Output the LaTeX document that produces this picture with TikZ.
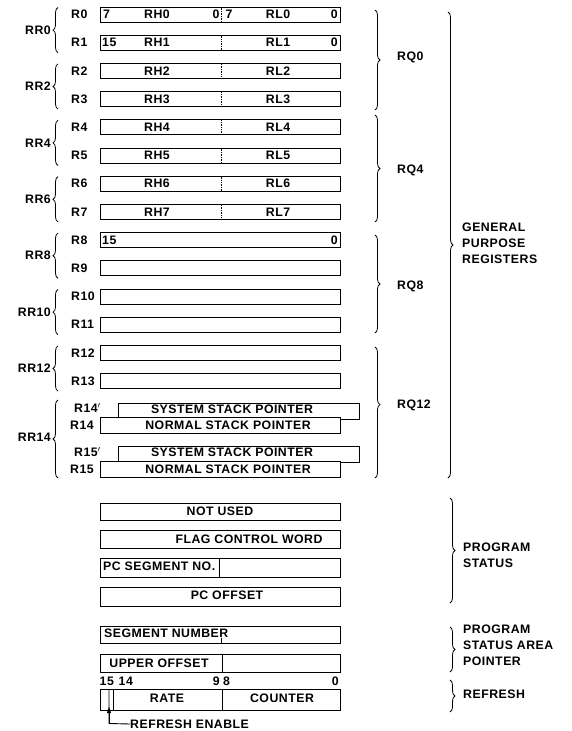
\documentclass[tikz,border=0pt]{standalone}
\usepackage{fontspec}
\setmainfont{Liberation Sans}[LetterSpace=4]
\usetikzlibrary{decorations.pathreplacing,arrows.meta}
\begin{document}
\begin{tikzpicture}[x=1pt,y=-1pt,
  font=\fontsize{12.3}{16}\selectfont\bfseries,
  reg/.style={draw, line width=0.9pt, fill=white, inner sep=0pt, minimum width=240pt, minimum height=15pt},
  sysbox/.style={draw, line width=0.9pt, fill=white, inner sep=0pt, minimum width=241pt, minimum height=16pt},
  txt/.style={inner sep=0pt},
  lbl/.style={inner sep=0pt, anchor=west},
  rlbl/.style={inner sep=0pt, anchor=east},
  bracel/.style={decorate, decoration={brace, amplitude=5pt}, line width=0.8pt},
  bracer/.style={decorate, decoration={brace, amplitude=5pt}, line width=0.8pt},
  divdot/.style={line width=0.7pt, densely dotted},
  div/.style={line width=0.9pt}]
\useasboundingbox (0,0) rectangle (572,731);

% ---- general registers R0..R13
\foreach \i in {0,...,13}{
  \pgfmathsetmacro\yy{14.5+28.2*\i}
  \node[reg] (r\i) at (220,\yy) {};
  \node[lbl] (l\i) at (71,\yy) {R\i};
}
\foreach \i in {0,...,7}{
  \pgfmathsetmacro\yy{14.5+28.2*\i}
  \node[txt] (rh\i) at (157,\yy) {RH\i};
  \node[txt] (rl\i) at (278,\yy) {RL\i};
  \coordinate (dt\i) at (221,\yy-7);
  \coordinate (db\i) at (221,\yy+7);
  \draw[divdot] (dt\i) -- (db\i);
}
% bit numbers
\node[lbl] (b0a) at (103,14.5) {7};
\node[txt] (b0b) at (216,14.5) {0};
\node[txt] (b0c) at (229,14.5) {7};
\node[rlbl] (b0d) at (338,14.5) {0};
\node[lbl] (b1a) at (102,42.7) {15};
\node[rlbl] (b1d) at (338,42.7) {0};
\node[lbl] (b8a) at (102,240.1) {15};
\node[rlbl] (b8d) at (338,240.1) {0};

% ---- R14 / R15 with shadow registers
\node[sysbox] (s14) at (238.5,411) {};
\node[reg, minimum height=16pt] (r14) at (220,425) {};
\node[txt] (s14t) at (232,409) {SYSTEM STACK POINTER};
\node[txt] (r14t) at (228,425) {NORMAL STACK POINTER};
\node[sysbox] (s15) at (239,454) {};
\node[reg, minimum height=16pt] (r15) at (220,469) {};
\node[txt] (s15t) at (232,452.5) {SYSTEM STACK POINTER};
\node[txt] (r15t) at (228,469) {NORMAL STACK POINTER};
\node[lbl] (l14p) at (74,408) {R14$'$};
\node[lbl] (l14) at (70,425) {R14};
\node[lbl] (l15p) at (74,452) {R15$'$};
\node[lbl] (l15) at (70,469) {R15};

% ---- left braces RR
\foreach \k in {0,2,...,12}{
  \pgfmathtruncatemacro\kk{\k+1}
  \pgfmathsetmacro\ya{14.5+28.2*\k-7}
  \pgfmathsetmacro\yb{14.5+28.2*\kk+10}
  \pgfmathsetmacro\ym{(\ya+\yb)/2}
  \coordinate (rrt\k) at (58,\ya);
  \coordinate (rrb\k) at (58,\yb);
  \draw[bracel] (rrb\k) -- (rrt\k);
  \node[rlbl] (rr\k) at (51,\ym) {RR\k};
}
\coordinate (rrt14) at (58,400);
\coordinate (rrb14) at (58,478);
\draw[bracel] (rrb14) -- (rrt14);
\node[rlbl] (rr14) at (51,437) {RR14};

% ---- right braces RQ
\coordinate (q0t) at (375,10);  \coordinate (q0b) at (375,110);
\coordinate (q4t) at (375,115); \coordinate (q4b) at (375,222);
\coordinate (q8t) at (375,235); \coordinate (q8b) at (375,333);
\coordinate (q12t) at (375,347); \coordinate (q12b) at (375,478);
\draw[bracer] (q0t) -- (q0b);
\draw[bracer] (q4t) -- (q4b);
\draw[bracer] (q8t) -- (q8b);
\draw[bracer, decoration={aspect=0.44}] (q12t) -- (q12b);
\node[lbl] (rq0) at (397,57) {RQ0};
\node[lbl] (rq4) at (397,170) {RQ4};
\node[lbl] (rq8) at (397,286) {RQ8};
\node[lbl] (rq12) at (397,405) {RQ12};

% ---- general purpose brace
\coordinate (gpt) at (448,12); \coordinate (gpb) at (448,478);
\draw[bracer] (gpt) -- (gpb);
\node[lbl, align=left] (gp) at (462,243) {GENERAL\\PURPOSE\\REGISTERS};

% ---- program status
\node[reg, minimum height=17pt] (nu) at (220,511.5) {};
\node[txt] (nut) at (220,511.5) {NOT USED};
\node[reg, minimum height=18pt] (fcw) at (220,539) {};
\node[txt] (fcwt) at (249,539) {FLAG CONTROL WORD};
\node[reg, minimum height=19pt] (pcs) at (220,567.5) {};
\node[lbl] (pcst) at (103,566.5) {PC SEGMENT NO.};
\coordinate (pcsd1) at (219,558); \coordinate (pcsd2) at (219,577);
\draw[div] (pcsd1) -- (pcsd2);
\node[reg, minimum height=19pt] (pco) at (220,596.5) {};
\node[txt] (pcot) at (227,595.5) {PC OFFSET};

\coordinate (pst) at (450,498); \coordinate (psb) at (450,603);
\draw[bracer] (pst) -- (psb);
\node[lbl, align=left] (ps) at (463,555) {PROGRAM\\STATUS};

% ---- program status area pointer
\node[reg, minimum height=17pt] (sn) at (220,634.5) {};
\node[lbl] (snt) at (104,633.5) {SEGMENT NUMBER};
\coordinate (snd1) at (221,638); \coordinate (snd2) at (221,643);
\draw[div] (snd1) -- (snd2);
\node[reg, minimum height=18pt] (uo) at (220,663) {};
\node[txt] (uot) at (159,663) {UPPER OFFSET};
\coordinate (uod1) at (222,654); \coordinate (uod2) at (222,672);
\draw[div] (uod1) -- (uod2);

\coordinate (pat) at (450,627); \coordinate (pab) at (450,672);
\draw[bracer] (pat) -- (pab);
\node[lbl, align=left] (psap) at (463,645) {PROGRAM\\STATUS AREA\\POINTER};

% ---- refresh
\node[lbl] (bt15) at (99.5,681) {15};
\node[lbl] (bt14) at (118.5,681) {14};
\node[rlbl] (bt9) at (220,681) {9};
\node[lbl] (bt8) at (223,681) {8};
\node[rlbl] (bt0) at (339,681) {0};
\node[reg, minimum height=21pt] (rf) at (220,699.5) {};
\coordinate (rfd1) at (113,689); \coordinate (rfd2) at (113,710);
\coordinate (rfd3) at (222,689); \coordinate (rfd4) at (222,710);
\draw[div] (rfd1) -- (rfd2);
\draw[div] (rfd3) -- (rfd4);
\node[txt] (rate) at (167,698.5) {RATE};
\node[txt] (cnt) at (282,698.5) {COUNTER};
\node[lbl] (ren) at (130,724) {REFRESH ENABLE};
\coordinate (reA) at (109,690);
\coordinate (reB) at (109,723.5);
\coordinate (reC) at (109,706);
\draw[line width=0.9pt] (ren.west) -- (reB) -- (reA);
\draw[line width=0.9pt, -{Latex[length=7pt,width=4.5pt]}] (reB) -- (reC);

\coordinate (rft) at (450,680); \coordinate (rfb) at (450,712);
\draw[bracer] (rft) -- (rfb);
\node[lbl] (rfl) at (463,694) {REFRESH};
\end{tikzpicture}
\end{document}
